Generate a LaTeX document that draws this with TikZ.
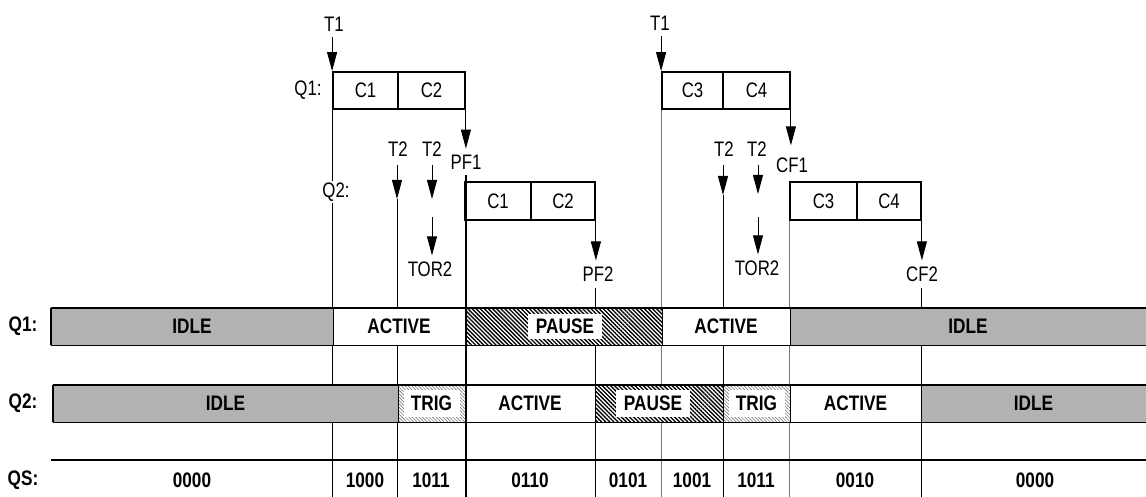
\documentclass[tikz,border=0pt]{standalone}
\usepackage{fontspec}
\setmainfont{Liberation Sans}[FakeStretch=0.80]
\newfontfamily\boldstretch{Liberation Sans Bold}[FakeStretch=0.82]
\usetikzlibrary{arrows.meta,patterns.meta}
\begin{document}
\begin{tikzpicture}[x=1pt,y=-1pt,
  lbl/.style={font=\fontsize{21}{24}\selectfont, inner xsep=1pt, inner ysep=6pt},
  blbl/.style={font=\boldstretch\fontsize{21}{24}\selectfont, inner sep=1pt},
  cell/.style={draw, line width=1.8pt, minimum height=37pt, inner sep=0pt, font=\fontsize{21}{24}\selectfont},
  arr/.style={-{Triangle[length=19pt,width=10pt]}, line width=0.9pt},
  vl/.style={line width=0.9pt},
  gvl/.style={line width=1pt, draw=black!55},
  tvl/.style={line width=1.8pt},
  seg/.style={draw, line width=0.9pt, minimum height=37pt, inner sep=0pt, font=\boldstretch\fontsize{21}{24}\selectfont},
  idleseg/.style={seg, fill=black!30},
  actseg/.style={seg, fill=white},
  pauseseg/.style={seg, preaction={fill=white}, pattern={Lines[angle=-45,distance=2.9pt,line width=1.35pt]}},
  trigseg/.style={seg, preaction={fill=white}, pattern={Lines[angle=-45,distance=2.4pt,line width=0.5pt]}, pattern color=black!60},
  bandline/.style={line width=1.8pt},
  whitelbl/.style={blbl, fill=white}
]
\useasboundingbox (0,0) rectangle (1146,497);
\coordinate (bot) at (0,497);

% ---------- top row: Q1 boxes ----------
\node[lbl] (t1a) at (334,24) {T1};
\node[lbl] (t1b) at (660,23) {T1};
\node[lbl] (q1lbl) at (308,90) {Q1:};
\node[cell, minimum width=65pt] (c1a) at (365.5,90.5) {C1};
\node[cell, minimum width=67pt] (c2a) at (431.5,90.5) {C2};
\node[cell, minimum width=61pt] (c3a) at (692.5,90.5) {C3};
\node[cell, minimum width=67pt] (c4a) at (756.5,90.5) {C4};

% ---------- Q2 boxes ----------
\node[cell, minimum width=66pt, minimum height=38pt] (c1b) at (498,201) {C1};
\node[cell, minimum width=64pt, minimum height=38pt] (c2b) at (563,201) {C2};
\node[cell, minimum width=67pt, minimum height=38pt] (c3b) at (823.5,201) {C3};
\node[cell, minimum width=64pt, minimum height=38pt] (c4b) at (889,201) {C4};

% ---------- event labels ----------
\node[lbl] (pf1) at (466,162) {PF1};
\node[lbl] (cf1) at (792,165) {CF1};
\node[lbl, inner ysep=8pt] (t2a) at (398,149) {T2};
\node[lbl, inner ysep=8pt] (t2b) at (432,149) {T2};
\node[lbl, inner ysep=8pt] (t2c) at (724,149) {T2};
\node[lbl, inner ysep=8pt] (t2d) at (757,149) {T2};
\node[lbl] (tor2a) at (430,269) {TOR2};
\node[lbl] (tor2b) at (757,268) {TOR2};
\node[lbl] (pf2) at (598,274) {PF2};
\node[lbl] (cf2) at (922,274) {CF2};

\coordinate (t2atip) at (397,199);
\coordinate (t2btip) at (432,199);
\coordinate (t2bmid) at (432,217);
\coordinate (t2ctip) at (723,195);
\coordinate (t2dtip) at (758,194);
\coordinate (t2dmid) at (758,217);

% ---------- arrows ----------
\draw[arr] (t1a.south -| c1a.north west) -- (c1a.north west);
\draw[arr] (t1b.south -| c3a.north west) -- (c3a.north west);
\draw[arr] (c2a.south east) -- (c2a.south east |- pf1.north);
\draw[arr] (c4a.south east) -- ([yshift=6pt]c4a.south east |- cf1.north);
\draw[arr] (c2b.south east) -- (c2b.south east |- pf2.north);
\draw[arr] (c4b.south east) -- (c4b.south east |- cf2.north);
\draw[arr] (t2a.south -| t2atip) -- (t2atip);
\draw[arr] (t2b.south -| t2btip) -- (t2btip);
\draw[arr] (t2bmid) -- (tor2a.north -| t2bmid);
\draw[arr] (t2c.south -| t2ctip) -- (t2ctip);
\draw[arr] (t2d.south -| t2dtip) -- (t2dtip);
\draw[arr] (t2dmid) -- (tor2b.north -| t2dmid);

% ---------- long vertical lines ----------
\draw[vl] (c1a.south west) -- (c1a.south west |- bot);
\draw[vl] (t2atip) -- (t2atip |- bot);
\draw[vl] (pf2.south -| c2b.south east) -- (c2b.south east |- bot);
\draw[gvl] (c3a.south west) -- (c3a.south west |- bot);
\draw[vl] (t2ctip) -- (t2ctip |- bot);
\draw[gvl] (c3b.south west) -- (c3b.south west |- bot);
\draw[vl] (cf2.south -| c4b.south east) -- (c4b.south east |- bot);

\node[lbl, fill=white, inner ysep=2pt] (q2lbl) at (336,192) {Q2:};

% ---------- Q1 band ----------
\node[idleseg, minimum width=282pt] (q1s1) at (192,326.5) {IDLE};
\node[actseg, minimum width=132pt] (q1s2) at (399,326.5) {ACTIVE};
\node[pauseseg, minimum width=197pt] (q1s3) at (563.5,326.5) {};
\node[actseg, minimum width=128pt] (q1s4) at (726,326.5) {ACTIVE};
\node[idleseg, minimum width=356pt] (q1s5) at (968,326.5) {IDLE};
\node[whitelbl, inner xsep=8pt, minimum height=25pt] (q1p) at (565,326) {PAUSE};
\draw[bandline] (q1s1.north west) -- (q1s5.north east);
\draw[bandline] (q1s1.south west) -- (q1s5.south east);
\draw[bandline] (q1s1.north west) -- (q1s1.south west);

% ---------- Q2 band ----------
\node[idleseg, minimum width=345pt] (q2s1) at (225.5,403.5) {IDLE};
\node[trigseg, minimum width=67pt] (q2s2) at (431.5,403.5) {};
\node[actseg, minimum width=130pt] (q2s3) at (530,403.5) {ACTIVE};
\node[pauseseg, minimum width=128pt] (q2s4) at (659,403.5) {};
\node[trigseg, minimum width=67pt] (q2s5) at (756.5,403.5) {};
\node[actseg, minimum width=131pt] (q2s6) at (855.5,403.5) {ACTIVE};
\node[idleseg, minimum width=225pt] (q2s7) at (1033.5,403.5) {IDLE};
\node[whitelbl, minimum width=56pt, minimum height=27pt] (q2t1) at (431.5,403.5) {TRIG};
\node[whitelbl, inner xsep=8pt, minimum height=27pt] (q2p) at (653,403.5) {PAUSE};
\node[whitelbl, minimum width=56pt, minimum height=27pt] (q2t2) at (756.5,403.5) {TRIG};
\draw[bandline] (q2s1.north west) -- (q2s7.north east);
\draw[bandline] (q2s1.south west) -- (q2s7.south east);
\draw[bandline] (q2s1.north west) -- (q2s1.south west);

% thick line at x=465
\draw[tvl] (pf1.south -| c2a.south east) -- (c2a.south east |- bot);

% ---------- QS row ----------
\coordinate (qsl) at (51,460);
\coordinate (qsr) at (1146,460);
\draw[bandline] (qsl) -- (qsr);
\node[blbl] (v1) at (192,480) {0000};
\node[blbl] (v2) at (365,480) {1000};
\node[blbl] (v3) at (431,480) {1011};
\node[blbl] (v4) at (530,480) {0110};
\node[blbl] (v5) at (628,480) {0101};
\node[blbl] (v6) at (692,480) {1001};
\node[blbl] (v7) at (756,480) {1011};
\node[blbl] (v8) at (855,480) {0010};
\node[blbl] (v9) at (1035,480) {0000};

% ---------- row labels ----------
\node[blbl] (r1) at (23,326) {Q1:};
\node[blbl] (r2) at (23,403) {Q2:};
\node[blbl] (r3) at (23,480) {QS:};
\end{tikzpicture}
\end{document}
